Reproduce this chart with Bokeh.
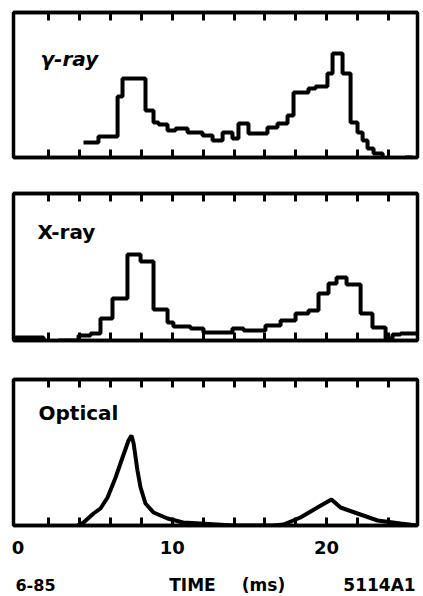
from bokeh.plotting import figure
from bokeh.models import LinearAxis, FixedTicker, Label, Range1d
from bokeh.layouts import column
from bokeh.embed import file_html
from bokeh.resources import INLINE

# ---- data (time in ms, intensities in arbitrary units) ----
gamma_edges = [4.24, 5.21, 6.45, 6.77, 8.26, 8.78, 9.11, 9.69, 10.21, 10.99, 11.96,
               12.61, 13.26, 13.90, 14.29, 14.94, 16.17, 16.82, 17.47, 17.86, 18.83,
               19.29, 20.06, 20.39, 21.04, 21.56, 22.01, 22.34, 22.66, 23.05, 23.64,
               24.29, 24.67, 25.12, 25.58]
gamma_counts = [15, 21, 61, 79, 47, 35, 33, 27, 29, 25, 22, 17, 25, 19, 34, 24, 30,
                34, 42, 65, 69, 71, 84, 104, 84, 35, 25, 17, 9, 4, -1, -8, -5, 0]

xray_edges = [-0.3, 1.65, 2.62, 3.92, 4.70, 5.34, 6.12, 7.09, 7.94, 8.78, 9.69, 10.07,
              11.18, 12.02, 13.90, 14.62, 16.04, 17.02, 17.99, 18.83, 19.48, 20.13,
              20.65, 21.30, 22.21, 22.98, 23.83, 24.28, 24.80, 25.9]
xray_counts = [3, -3, 0, 5, 7, 22, 42, 86, 79, 31, 18, 14, 12, 8, 12, 10, 15, 20, 27,
               30, 47, 57, 63, 56, 27, 13, 2, 6, 7]

optical_t = [3.85, 4.24, 4.89, 5.34, 5.80, 6.32, 6.77, 7.16, 7.35, 7.49, 7.74, 7.94,
             8.26, 8.78, 9.69, 10.70, 11.83, 13.97, 16.50, 17.21, 18.31, 19.41, 20.32,
             20.91, 22.01, 23.31, 24.80, 25.9]
optical_v = [0, 3, 12, 17, 28, 48, 68, 85, 90, 82, 55, 38, 22, 13, 7, 3, 2, 0, 0, 1,
             8, 18, 26, 18, 12, 5, 2, 0]

tick_minor = [2, 4, 6, 8, 12, 14, 16, 18, 22, 24]
tick_decade = [10, 20]
tick_major = [0, 10, 20]
tick_labels = {0: "0", 10: "10", 20: "20"}

panel_names = ["γ-ray", "X-ray", "Optical"]
footer_texts = ["6-85", "TIME", "(ms)", "5114A1"]

X0, X1 = -0.3, 25.9
FONT = "DejaVu Sans"
W = 423


def style_axis(ax, labelled):
    ax.axis_line_color = "black"
    ax.axis_line_width = 3.5
    ax.major_tick_out = 0
    ax.minor_tick_out = 0
    ax.minor_tick_in = 8
    ax.minor_tick_line_width = 3
    ax.minor_tick_line_color = "black"
    ax.major_tick_line_color = "black"
    ax.major_tick_line_width = 4
    if labelled:
        ax.ticker = FixedTicker(ticks=tick_major, minor_ticks=tick_minor + tick_decade)
        ax.major_tick_in = 0
        ax.major_label_overrides = tick_labels
        ax.major_label_text_font_size = "18px"
        ax.major_label_text_font = FONT
        ax.major_label_text_font_style = "bold"
        ax.major_label_text_color = "black"
        ax.major_label_standoff = 15
    else:
        ax.ticker = FixedTicker(ticks=[], minor_ticks=tick_minor + tick_decade)
        ax.major_tick_in = 0
        ax.major_label_standoff = 0


def make_panel(height, top, bottom, yspan, show_labels):
    p = figure(width=W, height=height, x_range=Range1d(X0, X1),
               y_range=Range1d(0, yspan), output_backend="svg",
               toolbar_location=None, x_axis_location=None, y_axis_location=None,
               min_border_left=13, min_border_right=6,
               min_border_top=top, min_border_bottom=bottom)
    p.xgrid.visible = False
    p.ygrid.visible = False
    p.outline_line_color = "black"
    p.outline_line_width = 3.5
    p.background_fill_color = "white"
    p.border_fill_color = "white"
    top_axis = LinearAxis()
    style_axis(top_axis, False)
    p.add_layout(top_axis, "above")
    bot_axis = LinearAxis()
    style_axis(bot_axis, show_labels)
    p.add_layout(bot_axis, "below")
    return p


def panel_label(p, text, x, y, style, size):
    p.add_layout(Label(x=x, y=y, x_units="screen", y_units="screen", text=text,
                       text_font=FONT, text_font_style=style, text_font_size=size,
                       text_baseline="middle", text_color="black"))


p1 = make_panel(175, 12, 18, 145, False)
p1.step(gamma_edges, gamma_counts + [gamma_counts[-1]], mode="after",
        line_color="black", line_width=4)
panel_label(p1, panel_names[0], 27, 99, "bold italic", "20px")

p2 = make_panel(185, 18, 20, 147, False)
p2.step(xray_edges, xray_counts + [xray_counts[-1]], mode="after",
        line_color="black", line_width=4)
panel_label(p2, panel_names[1], 24, 109, "bold", "20px")

p3 = make_panel(203, 19, 38, 146, True)
p3.line(optical_t, optical_v, line_color="black", line_width=4)
panel_label(p3, panel_names[2], 25, 113, "bold", "20px")

# footer row (date code, axis title, figure number); its frame is aligned with the panels
p4 = figure(width=W, height=30, x_range=Range1d(0, 1), y_range=Range1d(0, 1),
            output_backend="svg", toolbar_location=None,
            x_axis_location=None, y_axis_location=None,
            min_border_left=13, min_border_right=6, min_border_top=0, min_border_bottom=0)
p4.xgrid.visible = False
p4.ygrid.visible = False
p4.outline_line_color = None
for txt, xx, size in zip(footer_texts, [22, 179, 250, 366], ["16px", "17px", "17px", "17px"]):
    p4.add_layout(Label(x=xx, y=9, x_units="screen", y_units="screen", text=txt,
                        text_font=FONT, text_font_style="bold", text_font_size=size,
                        text_align="center", text_baseline="middle", text_color="black"))

layout = column(p1, p2, p3, p4, spacing=0)
open("out.html", "w").write(file_html(layout, INLINE))
